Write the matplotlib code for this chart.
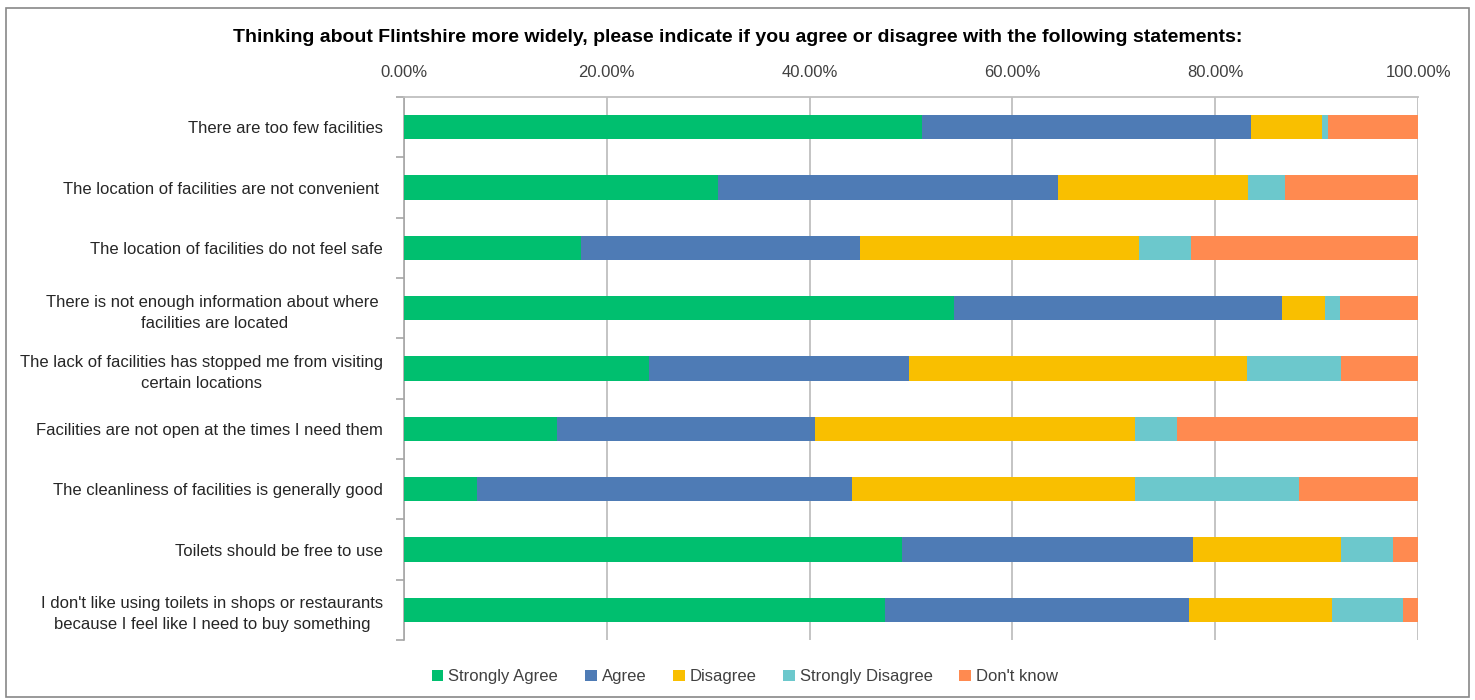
import numpy as np
import matplotlib
matplotlib.use("Agg")
import matplotlib.pyplot as plt
from matplotlib.patches import Rectangle

plt.rcParams['font.family'] = ['Liberation Sans Narrow', 'Liberation Sans', 'DejaVu Sans']

statements = [
    "There are too few facilities",
    "The location of facilities are not convenient ",
    "The location of facilities do not feel safe",
    "There is not enough information about where \nfacilities are located",
    "The lack of facilities has stopped me from visiting\ncertain locations",
    "Facilities are not open at the times I need them",
    "The cleanliness of facilities is generally good",
    "Toilets should be free to use",
    "I don't like using toilets in shops or restaurants\nbecause I feel like I need to buy something",
]
series = ["Strongly Agree", "Agree", "Disagree", "Strongly Disagree", "Don't know"]
colors = ["#00BF6F", "#4E7BB5", "#F9BF00", "#6CC8CC", "#FF8A50"]

strongly_agree    = [51.1, 31.0, 17.5, 54.2, 24.2, 15.1, 7.2, 49.1, 47.4]
agree             = [32.4, 33.5, 27.5, 32.4, 25.6, 25.4, 37.0, 28.7, 30.0]
disagree          = [7.0, 18.7, 27.5, 4.2, 33.3, 31.6, 27.9, 14.6, 14.1]
strongly_disagree = [0.6, 3.7, 5.1, 1.5, 9.3, 4.1, 16.2, 5.1, 7.0]
dont_know         = [8.9, 13.1, 22.4, 7.7, 7.6, 23.8, 11.7, 2.5, 1.5]

data = [strongly_agree, agree, disagree, strongly_disagree, dont_know]

fig = plt.figure(figsize=(14.75, 7), dpi=100)
ax = fig.add_axes([0.2739, 0.0857, 0.6875, 0.7757])

y = np.arange(len(statements))
left = np.zeros(len(statements))
for name, vals, col in zip(series, data, colors):
    ax.barh(y, vals, left=left, height=0.4, color=col, label=name, zorder=3)
    left += np.array(vals)

ax.set_xlim(0, 100)
ax.set_ylim(len(statements) - 0.5, -0.5)
ax.xaxis.tick_top()
ax.set_xticks(np.arange(0, 101, 20))
ax.set_xticklabels(["%.2f%%" % v for v in np.arange(0, 101, 20)], fontsize=12, color="#404040")
ax.tick_params(axis='x', length=0, pad=12)
ax.grid(axis='x', color="#BFBFBF", linewidth=1.3, zorder=0)

ax.set_yticks(y)
ax.set_yticklabels(statements, fontsize=12, color="#262626")
for lab in ax.get_yticklabels():
    lab.set_multialignment('center')
    lab.set_linespacing(1.5)
ax.set_yticks(np.arange(-0.5, len(statements) + 0.5, 1), minor=True)
ax.tick_params(axis='y', which='major', length=0, pad=15)
ax.tick_params(axis='y', which='minor', length=6, color="#A6A6A6", width=1.2)

for s in ['right', 'bottom']:
    ax.spines[s].set_visible(False)
ax.spines['top'].set_color("#BFBFBF")
ax.spines['top'].set_linewidth(1.3)
ax.spines['left'].set_color("#A6A6A6")
ax.spines['left'].set_linewidth(1.2)

fig.text(0.5, 0.947, "Thinking about Flintshire more widely, please indicate if you agree or disagree with the following statements:",
         ha='center', va='center', fontsize=14, fontweight='bold', color="#000000")

fig.legend(loc='center', bbox_to_anchor=(0.505, 0.033), ncol=5, frameon=False, fontsize=12,
           handlelength=0.7, handleheight=0.7, handletextpad=0.3, columnspacing=1.6,
           labelcolor="#404040")

fig.patches.append(Rectangle((0.004, 0.004), 0.992, 0.985, transform=fig.transFigure,
                             fill=False, edgecolor="#888888", linewidth=1.2))

fig.savefig("out.png", dpi=100)
